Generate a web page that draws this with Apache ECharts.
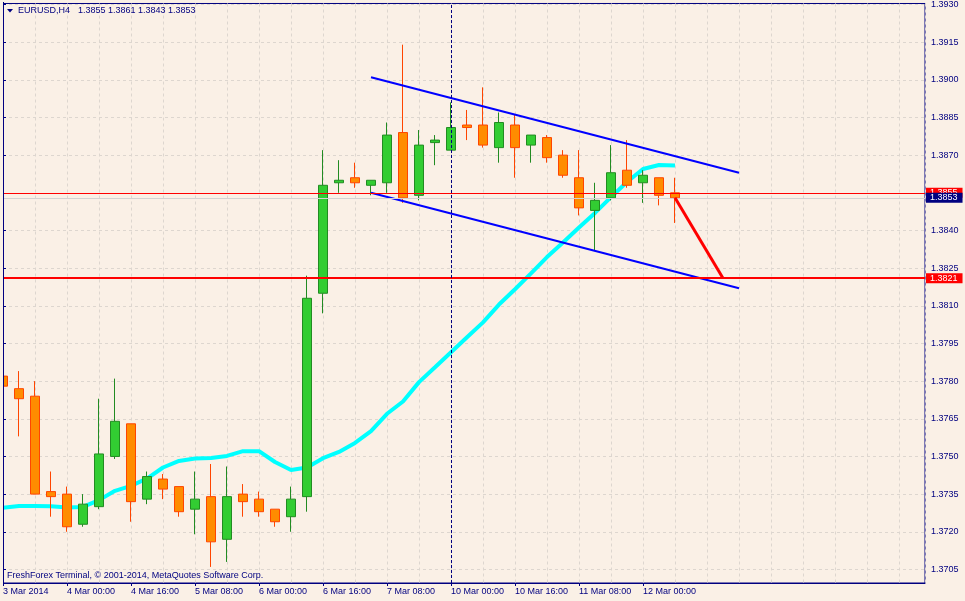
<!DOCTYPE html>
<html><head><meta charset="utf-8">
<script src="https://cdn.jsdelivr.net/npm/echarts@6/dist/echarts.min.js"></script>
<style>html,body{margin:0;padding:0;background:#FAF0E6;}#c{width:965px;height:601px;}</style>
</head><body><div id="c"></div><script>
// ---- data ----
const symbolTitle = 'EURUSD,H4';
const lastQuote = '1.3855 1.3861 1.3843 1.3853';
const copyright = 'FreshForex Terminal, \u00A9 2001-2014, MetaQuotes Software Corp.';
const barTimes = ['03.03 08:00','03.03 12:00','03.03 16:00','03.03 20:00','04.03 00:00','04.03 04:00','04.03 08:00','04.03 12:00','04.03 16:00','04.03 20:00',
  '05.03 00:00','05.03 04:00','05.03 08:00','05.03 12:00','05.03 16:00','05.03 20:00','06.03 00:00','06.03 04:00','06.03 08:00','06.03 12:00',
  '06.03 16:00','06.03 20:00','07.03 00:00','07.03 04:00','07.03 08:00','07.03 12:00','07.03 16:00','07.03 20:00','10.03 00:00','10.03 04:00',
  '10.03 08:00','10.03 12:00','10.03 16:00','10.03 20:00','11.03 00:00','11.03 04:00','11.03 08:00','11.03 12:00','11.03 16:00','11.03 20:00',
  '12.03 00:00','12.03 04:00','12.03 08:00'];
const opens  = [1.3782,1.3777,1.3774,1.3736,1.3735,1.3723,1.3730,1.3750,1.3763,1.3733,1.3741,1.3738,1.3729,1.3734,1.3717,1.3735,1.3733,1.3729,1.3726,1.3734,
  1.3815,1.3859,1.3861,1.3858,1.3859,1.3879,1.3854,1.3875,1.3872,1.3882,1.3882,1.3873,1.3882,1.3874,1.3877,1.3870,1.3861,1.3848,1.3853,1.3864,1.3859,1.3861,1.3855];
const highs  = [1.3792,1.3784,1.3780,1.3744,1.3738,1.3735,1.3773,1.3781,1.3763,1.3744,1.3743,1.3738,1.3744,1.3747,1.3746,1.3739,1.3736,1.3729,1.3738,1.3822,
  1.3872,1.3868,1.3867,1.3860,1.3883,1.3914,1.3880,1.3878,1.3891,1.3888,1.3897,1.3887,1.3886,1.3878,1.3878,1.3872,1.3872,1.3859,1.3874,1.3876,1.3864,1.3861,1.3861];
const lows   = [1.3766,1.3758,1.3735,1.3726,1.3720,1.3722,1.3729,1.3749,1.3724,1.3731,1.3733,1.3726,1.3719,1.3706,1.3708,1.3726,1.3726,1.3722,1.3720,1.3728,
  1.3807,1.3855,1.3857,1.3854,1.3855,1.3851,1.3852,1.3866,1.3872,1.3876,1.3873,1.3867,1.3861,1.3867,1.3867,1.3861,1.3846,1.3832,1.3852,1.3857,1.3851,1.3850,1.3843];
const closes = [1.3778,1.3773,1.3735,1.3734,1.3722,1.3731,1.3751,1.3764,1.3732,1.3742,1.3737,1.3728,1.3733,1.3716,1.3734,1.3732,1.3728,1.3724,1.3733,1.3813,
  1.3858,1.3860,1.3859,1.3860,1.3878,1.3853,1.3874,1.3876,1.3881,1.3881,1.3874,1.3883,1.3873,1.3878,1.3869,1.3862,1.3849,1.3852,1.3863,1.3858,1.3862,1.3854,1.3853];
const maValues = [1.37296,1.37303,1.37303,1.37302,1.37297,1.37299,1.37326,1.37363,1.37383,1.37412,1.37456,1.37482,1.37492,1.37494,1.37502,1.37521,1.37521,1.37478,1.37446,1.37456,
  1.37493,1.37518,1.37554,1.37601,1.37670,1.37719,1.37796,1.37855,1.37915,1.37975,1.38034,1.38105,1.38166,1.38229,1.38294,1.38352,1.38412,1.38470,1.38533,1.38593,1.38645,1.38661,1.38659];
const channelUpper = [[23, 1.3901], [46, 1.3863]];
const channelLower = [[23, 1.3855], [46, 1.3817]];
const projection   = [[42, 1.3853], [45, 1.3821]];
const levelRedThin = 1.3855;
const levelBid = 1.3853;
const levelRedThick = 1.3821;
const weekSeparator = 28;
const yTicks = [1.3705,1.3720,1.3735,1.3750,1.3765,1.3780,1.3795,1.3810,1.3825,1.3840,1.3855,1.3870,1.3885,1.3900,1.3915,1.3930];
const xTickLabels = ['3 Mar 2014','4 Mar 00:00','4 Mar 16:00','5 Mar 08:00','6 Mar 00:00','6 Mar 16:00','7 Mar 08:00','10 Mar 00:00','10 Mar 16:00','11 Mar 08:00','12 Mar 00:00'];
const xLabelStep = 4;

// ---- chart ----
const NAVY = '#000080', BG = '#FAF0E6', FONT = 'Liberation Sans';
const xMin = 0, xMax = 57.625, yMin = 1.36996, yMax = 1.39304;
const xTickPos = xTickLabels.map((_, i) => i * xLabelStep);
const chart = echarts.init(document.getElementById('c'), null, {renderer: 'canvas'});
const boxLabel = (bg) => ({
  show: true, position: 'end', distance: 1, color: '#fff', backgroundColor: bg,
  fontFamily: FONT, fontSize: 9, lineHeight: 9, padding: [1, 5, 0, 4],
  formatter: p => Number(p.value).toFixed(4)
});
chart.setOption({
  animation: false,
  backgroundColor: BG,
  grid: {left: 3, top: 2, right: 40, bottom: 18, show: true, borderColor: NAVY, borderWidth: 1, backgroundColor: BG},
  xAxis: [
    {type: 'value', min: xMin, max: xMax, interval: 2, axisLine: {show: false}, axisTick: {show: false}, axisLabel: {show: false},
     splitLine: {show: true, lineStyle: {color: '#ddd6cf', type: [3, 3], width: 1}}},
    {type: 'value', min: xMin, max: xMax, position: 'bottom',
     axisLine: {show: true, onZero: false, lineStyle: {color: NAVY}},
     axisTick: {show: true, length: 3, customValues: xTickPos, lineStyle: {color: NAVY}},
     axisLabel: {show: true, customValues: xTickPos, margin: 4, align: 'left', color: NAVY, fontFamily: FONT, fontSize: 9,
       formatter: v => xTickLabels[Math.round(v / xLabelStep)] || ''},
     splitLine: {show: false}}
  ],
  yAxis: {type: 'value', position: 'right', min: yMin, max: yMax, scale: true,
    axisLine: {show: true, lineStyle: {color: NAVY}},
    axisTick: {show: true, length: 3, customValues: yTicks, lineStyle: {color: NAVY}},
    axisLabel: {show: true, customValues: yTicks, margin: 6, color: NAVY, fontFamily: FONT, fontSize: 9, formatter: v => v.toFixed(4)},
    splitLine: {show: true, lineStyle: {color: '#ddd6cf', type: [3, 3], width: 1}}},
  graphic: [
    // mask left of the plot border so the first candle is cut like the terminal does
    {type: 'rect', left: 0, top: 0, shape: {width: 3, height: 601}, style: {fill: BG}, z: 20, silent: true},
    {type: 'line', shape: {x1: 3.5, y1: 2, x2: 3.5, y2: 583}, style: {stroke: NAVY, lineWidth: 1}, z: 21, silent: true},
    {type: 'polygon', left: 7, top: 9, shape: {points: [[0, 0], [6, 0], [3, 3.5]]}, style: {fill: NAVY}, z: 10},
    {type: 'text', left: 18, top: 6, style: {text: symbolTitle, fill: NAVY, font: '9px "Liberation Sans"'}, z: 10},
    {type: 'text', left: 78, top: 6, style: {text: lastQuote, fill: NAVY, font: '9px "Liberation Sans"'}, z: 10},
    {type: 'text', left: 7, top: 571, style: {text: copyright, fill: NAVY, font: '9px "Liberation Sans"'}, z: 10}
  ],
  series: [
    {type: 'line', name: 'MA', xAxisIndex: 0, data: maValues.map((v, i) => [i, v]), showSymbol: false, symbol: 'none',
     lineStyle: {color: '#00FFFF', width: 4}, z: 2},
    {type: 'candlestick', name: symbolTitle, xAxisIndex: 0, barWidth: 9, clip: true,
     data: opens.map((o, i) => [i, o, closes[i], lows[i], highs[i]]),
     encode: {x: 0, y: [1, 2, 3, 4], tooltip: [1, 2, 3, 4]},
     itemStyle: {color: '#32CD32', color0: '#FF8C00', borderColor: '#228B22', borderColor0: '#FF4500', borderWidth: 1}, z: 3},
    {type: 'line', xAxisIndex: 0, data: channelUpper, symbol: 'none', lineStyle: {color: '#0000FF', width: 2}, z: 4},
    {type: 'line', xAxisIndex: 0, data: channelLower, symbol: 'none', lineStyle: {color: '#0000FF', width: 2}, z: 4},
    {type: 'line', xAxisIndex: 0, data: projection, symbol: 'none', lineStyle: {color: '#FF0000', width: 3}, z: 5,
     markLine: {silent: true, symbol: ['none', 'none'], animation: false, precision: 4,
       data: [
         {yAxis: levelRedThin, lineStyle: {color: '#FF0000', width: 1, type: 'solid'}, label: boxLabel('#FF0000')},
         {yAxis: levelBid, lineStyle: {color: '#D3D3D3', width: 1, type: 'solid'}, label: boxLabel(NAVY)},
         {yAxis: levelRedThick, lineStyle: {color: '#FF0000', width: 2, type: 'solid'}, label: boxLabel('#FF0000')},
         {xAxis: weekSeparator, lineStyle: {color: NAVY, width: 1, type: [3, 2]}, label: {show: false}}
       ]}}
  ]
});
</script></body></html>
